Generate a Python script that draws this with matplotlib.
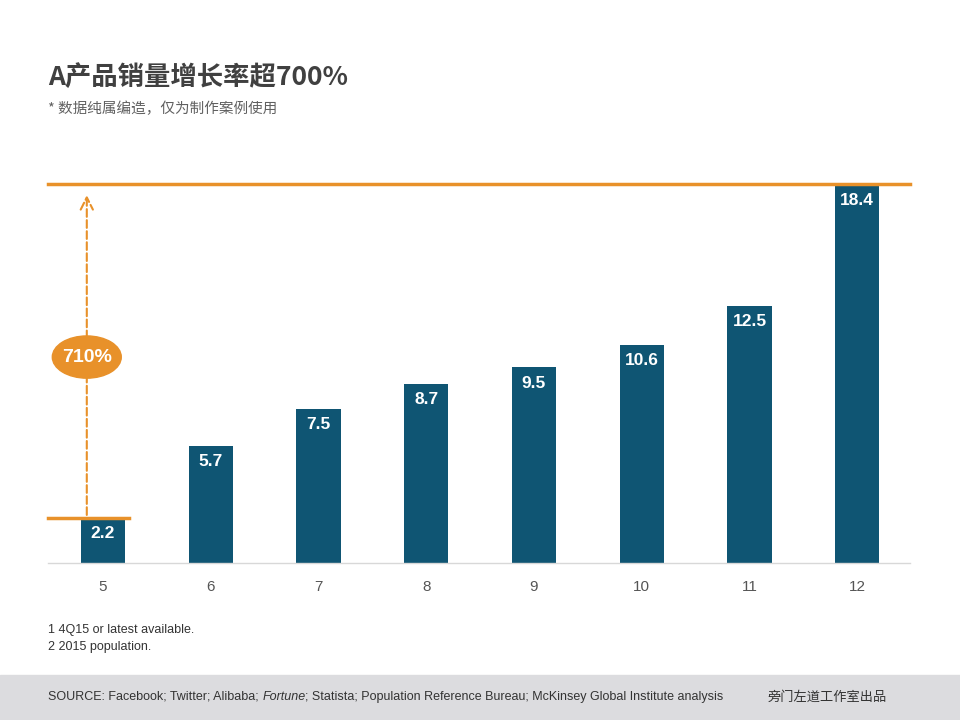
import matplotlib.pyplot as plt
from matplotlib.patches import Ellipse, Rectangle

plt.rcParams['font.family'] = ['Liberation Sans', 'Noto Sans CJK SC', 'DejaVu Sans']

months = ["5", "6", "7", "8", "9", "10", "11", "12"]
sales = [2.2, 5.7, 7.5, 8.7, 9.5, 10.6, 12.5, 18.4]
growth_label = "710%"

title = "A产品销量增长率超700%"
subtitle = "* 数据纯属编造，仅为制作案例使用"
notes = ["1 4Q15 or latest available.", "2 2015 population."]
source_parts = [("SOURCE: Facebook; Twitter; Alibaba; ", "normal"), ("Fortune", "italic"),
                ("; Statista; Population Reference Bureau; McKinsey Global Institute analysis", "normal")]
credit = "旁门左道工作室出品"

barColor = "#0f5573"
orange = "#e8912a"
cjk = ["Noto Sans CJK SC", "DejaVu Sans"]

fig = plt.figure(figsize=(9.6, 7.2), dpi=100)
ax = fig.add_axes([0.05, 0.218, 0.898, 0.5264])

x = list(range(len(months)))
ax.bar(x, sales, width=0.41, color=barColor, zorder=2)
for xi, v in zip(x, sales):
  ax.text(xi, v - 0.78, str(v), ha="center", va="center", color="white",
          fontsize=12.5, fontweight="bold", family=["Liberation Sans"])

ax.set_xlim(-0.51, 7.49)
ax.set_ylim(0, sales[-1])
ax.set_xticks(x)
ax.set_xticklabels(months, color="#555555", fontsize=11)
ax.tick_params(axis="x", length=0, pad=12)
ax.set_yticks([])
for s in ["top", "left", "right"]:
  ax.spines[s].set_visible(False)
ax.spines["bottom"].set_color("#d8d8d8")
ax.spines["bottom"].set_linewidth(1)

# top and bottom reference lines
ax.axhline(sales[-1], color=orange, lw=2.5, zorder=3, clip_on=False)
ax.plot([-0.51, 0.24], [sales[0], sales[0]], color=orange, lw=2.5, zorder=3, clip_on=False)

# dashed arrow + growth badge
arrow_x = -0.15
ax.annotate("", xy=(arrow_x, sales[-1] - 0.4), xytext=(arrow_x, sales[0]),
            arrowprops=dict(arrowstyle="->", color=orange, lw=1.5, ls="--",
                            mutation_scale=22), zorder=3)
ax.add_patch(Ellipse((arrow_x, 10.0), 0.64, 2.05, color=orange, zorder=4))
ax.text(arrow_x, 10.0, growth_label, ha="center", va="center", color="white",
        fontsize=14, fontweight="bold", family=["Liberation Sans"], zorder=5)

# titles
fig.text(0.05, 0.893, title, fontsize=19, fontweight="bold", color="#404040", va="center",
         family=cjk)
fig.text(0.05, 0.849, subtitle, fontsize=10.5, style="italic", color="#606060", va="center",
         family=cjk)

# footnotes
fig.text(0.05, 0.125, notes[0], fontsize=9, color="#333333", va="center")
fig.text(0.05, 0.102, notes[1], fontsize=9, color="#333333", va="center")

# footer band
fig.patches.append(Rectangle((0, 0), 1, 0.0625, transform=fig.transFigure,
                             color="#dcdcdf", zorder=0))
r = fig.canvas.get_renderer()
xpos = 0.05
for part, style in source_parts:
  t = fig.text(xpos, 0.032, part, fontsize=9, color="#333333", va="center", style=style)
  ext = t.get_window_extent(renderer=r)
  xpos = ext.x1 / fig.bbox.width

fig.text(0.80, 0.032, credit, fontsize=9.5, color="#333333", va="center", family=cjk)

fig.savefig("out.png", dpi=100, facecolor="white")
